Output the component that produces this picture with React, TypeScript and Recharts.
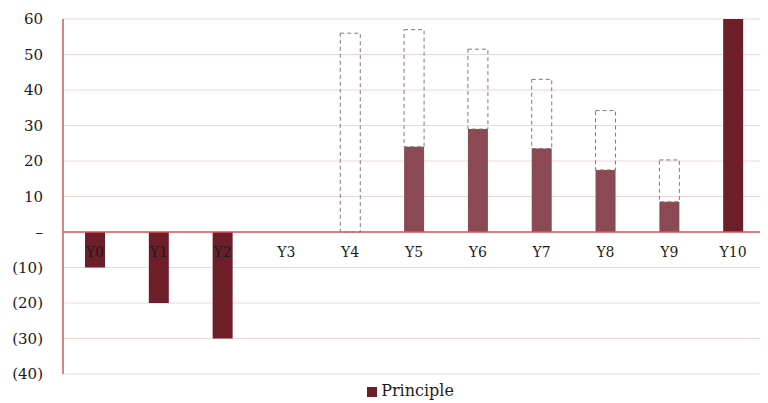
import { BarChart, Bar, XAxis, YAxis, CartesianGrid, Legend, ReferenceLine, Cell } from "recharts";

const categories = ["Y0", "Y1", "Y2", "Y3", "Y4", "Y5", "Y6", "Y7", "Y8", "Y9", "Y10"];
// principle paid in each year (solid bars)
const principle = [-10, -20, -30, 0, 0, 24, 29, 23.5, 17.5, 8.5, 60];
// top of the dashed outline, where there is one
const outlineTop = [null, null, null, null, 56, 57, 51.5, 43, 34.2, 20.3, null];
const yTicks = [-40, -30, -20, -10, 0, 10, 20, 30, 40, 50, 60];

const data = categories.map((name, i) => ({
  name,
  principle: principle[i],
  outline: outlineTop[i] == null ? 0 : (outlineTop[i] as number) - Math.max(principle[i], 0),
  projected: outlineTop[i] != null,
}));

const W = 760;
const H = 395;
const M = { top: 11, right: 3, left: 0, bottom: 1 };
const LEGEND_H = 24;
const XAXIS_H = 4;
const PLOT_H = H - M.top - M.bottom - LEGEND_H - XAXIS_H;
const ZERO_Y = M.top + (PLOT_H * 60) / 100;

const FONT = "'DejaVu Serif', serif";
const DARK = "#6e1e29";
const LIGHT = "#8b4a53";

const fmt = (v: number) => (v === 0 ? "–" : v < 0 ? `(${-v})` : `${v}`);

const CatTick = (props: any) => {
  const { x, payload } = props;
  return (
    <text x={x} y={ZERO_Y + 21} textAnchor="middle" dominantBaseline="middle" fill="#1c1c1c" fontSize={14} fontFamily={FONT}>
      {payload.value}
    </text>
  );
};

const App = () => {
  return (
    <BarChart width={W} height={H} data={data} margin={M} stackOffset="sign" barSize={20}>
      <CartesianGrid vertical={false} stroke="#f4d6d6" />
      <YAxis
        domain={[-40, 60]}
        ticks={yTicks}
        tickFormatter={fmt}
        width={55}
        tickLine={false}
        tickMargin={14}
        axisLine={{ stroke: "#d05a5a", strokeWidth: 1.5 }}
        tick={{ fill: "#1c1c1c", fontSize: 15, fontFamily: FONT }}
        interval={0}
      />
      <Bar dataKey="principle" name="Principle" stackId="a" fill={DARK} isAnimationActive={false}>
        {data.map((d, i) => (
          <Cell key={i} fill={d.projected ? LIGHT : DARK} />
        ))}
      </Bar>
      <Bar
        dataKey="outline"
        stackId="a"
        fill="none"
        stroke="#7a7a7a"
        strokeDasharray="4 3"
        legendType="none"
        isAnimationActive={false}
      />
      <ReferenceLine y={0} stroke="#d05a5a" strokeWidth={1.5} />
      <XAxis dataKey="name" height={XAXIS_H} axisLine={false} tickLine={false} tick={<CatTick />} interval={0} />
      <Legend
        verticalAlign="bottom"
        height={LEGEND_H}
        iconType="square"
        iconSize={10}
        wrapperStyle={{ transform: "translate(29px, 3px)" }}
        formatter={(value: string) => (
          <span style={{ color: "#1c1c1c", fontFamily: FONT, fontSize: 16 }}>{value}</span>
        )}
      />
    </BarChart>
  );
};

export default App;
